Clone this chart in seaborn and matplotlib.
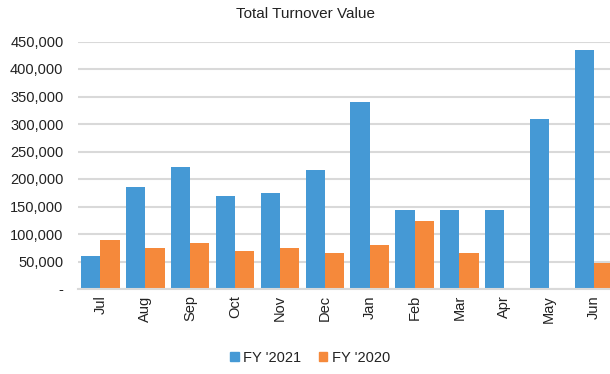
import matplotlib
matplotlib.use("Agg")
import matplotlib.pyplot as plt
import matplotlib.ticker as mticker
import seaborn as sns
import pandas as pd

months = ["Jul", "Aug", "Sep", "Oct", "Nov", "Dec", "Jan", "Feb", "Mar", "Apr", "May", "Jun"]
fy2021 = [60000, 186000, 221000, 170000, 174000, 216000, 340000, 143000, 144000, 143000, 310000, 435000]
fy2020 = [89000, 74000, 84000, 70000, 74000, 66000, 80000, 123000, 66000, 0, 1500, 48000]
series = ["FY '2021", "FY '2020"]
colors = ["#4599D5", "#F5893B"]

df = pd.DataFrame({
    "Month": months * 2,
    "Value": fy2021 + fy2020,
    "Series": [series[0]] * len(months) + [series[1]] * len(months),
})

sns.set_theme(style="white")
plt.rcParams["font.family"] = ["Liberation Sans", "DejaVu Sans"]

fig = plt.figure(figsize=(6.10, 3.74), dpi=100)
ax = fig.add_axes([78 / 610, 1 - 289 / 374, (616.5 - 78) / 610, (289 - 41.5) / 374])

sns.barplot(data=df, x="Month", y="Value", hue="Series", order=months,
            hue_order=series, palette=colors, width=0.86, saturation=1,
            linewidth=0, ax=ax, legend=True)

ax.set_xlim(-0.5, len(months) - 0.5)
ax.set_ylim(0, 450000)
ax.yaxis.set_major_locator(mticker.MultipleLocator(50000))
ax.yaxis.set_major_formatter(mticker.FuncFormatter(lambda v, p: "-" if v == 0 else f"{v:,.0f}"))
ax.grid(axis="y", color="#D9D9D9", linewidth=1.5)
ax.set_axisbelow(True)
for side in ["top", "right", "left"]:
    ax.spines[side].set_visible(False)
ax.spines["bottom"].set_color("#D9D9D9")
ax.spines["bottom"].set_linewidth(1.5)
ax.tick_params(axis="y", length=0, pad=10.5, labelsize=10.5, labelcolor="#222222")
ax.tick_params(axis="x", length=0, pad=4.5, labelsize=10.5, labelcolor="#222222", rotation=90)
ax.set_xlabel("")
ax.set_ylabel("")

fig.text(305 / 610, 1 - 14 / 374, "Total Turnover Value", ha="center", va="center",
         fontsize=11, color="#222222")

ax.legend_.remove()
handles = [plt.Rectangle((0, 0), 1, 1, color=c) for c in colors]
fig.legend(handles, series, loc="center", bbox_to_anchor=(310 / 610, 1 - 358 / 374),
           ncol=2, frameon=False, fontsize=10.5, handlelength=0.6, handleheight=0.6,
           handletextpad=0.3, columnspacing=1.2, labelcolor="#222222")

fig.savefig("out.png", dpi=100)
